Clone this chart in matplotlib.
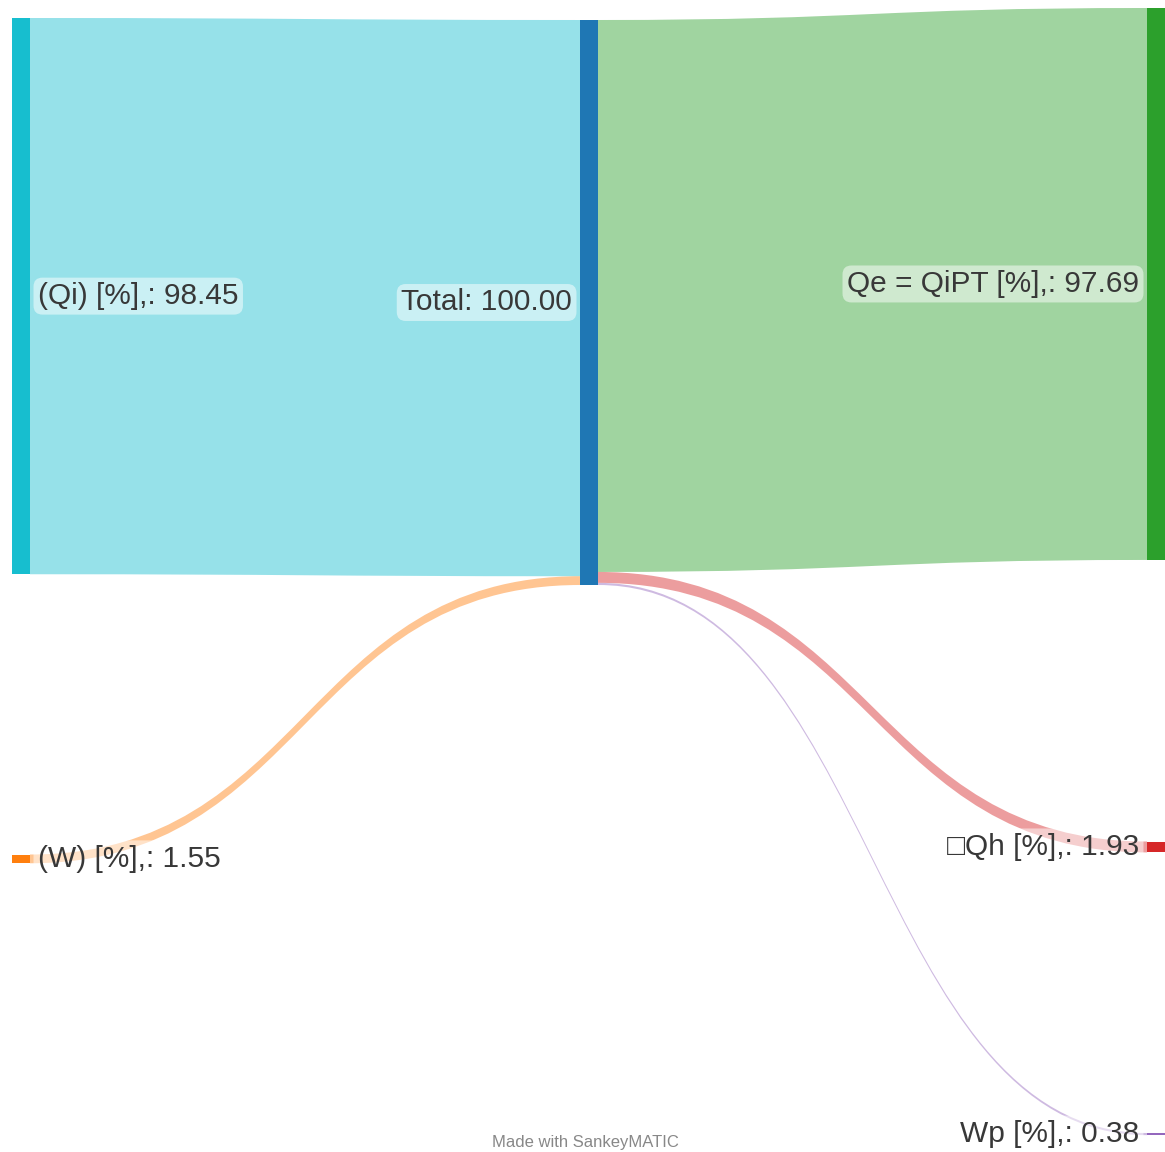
import matplotlib.pyplot as plt
from matplotlib.path import Path
import matplotlib.patches as patches

# Data
node_names = ["(Qi) [%],:", "(W) [%],:", "Total:", "Qe = QiPT [%],:", "\u25a1Qh [%],:", "Wp [%],:"]
node_colors = ["#17becf", "#ff7f0e", "#1f77b4", "#2ca02c", "#d62728", "#9467bd"]
flow_src = [0, 1, 2, 2, 2]
flow_tgt = [2, 2, 3, 4, 5]
flow_val = [98.45, 1.55, 97.69, 1.93, 0.38]
flow_color_node = [0, 1, 3, 4, 5]

# Layout (pixels)
W, H = 1165, 1152
node_col = [0, 0, 1, 2, 2, 2]
col_x = [12, 580, 1147]
node_w = 18
scale = 5.65
node_top = [18, 854.5, 20, 8, 841.5, 1133]

node_val = []
for i in range(len(node_names)):
    vin = sum(v for v, t in zip(flow_val, flow_tgt) if t == i)
    vout = sum(v for v, s in zip(flow_val, flow_src) if s == i)
    node_val.append(max(vin, vout))

fig = plt.figure(figsize=(W / 100, H / 100), dpi=100)
ax = fig.add_axes([0, 0, 1, 1])
ax.set_xlim(0, W)
ax.set_ylim(H, 0)
ax.axis('off')

# flows
out_off = [0.0] * len(node_names)
in_off = [0.0] * len(node_names)
for s, t, v, c in zip(flow_src, flow_tgt, flow_val, flow_color_node):
    h = v * scale
    x0 = col_x[node_col[s]] + node_w
    x1 = col_x[node_col[t]]
    y0 = node_top[s] + out_off[s]
    y1 = node_top[t] + in_off[t]
    out_off[s] += h
    in_off[t] += h
    xm = (x0 + x1) / 2
    verts = [(x0, y0), (xm, y0), (xm, y1), (x1, y1),
             (x1, y1 + h), (xm, y1 + h), (xm, y0 + h), (x0, y0 + h), (x0, y0)]
    codes = [Path.MOVETO, Path.CURVE4, Path.CURVE4, Path.CURVE4,
             Path.LINETO, Path.CURVE4, Path.CURVE4, Path.CURVE4, Path.CLOSEPOLY]
    ax.add_patch(patches.PathPatch(Path(verts, codes), facecolor=node_colors[c],
                                   edgecolor='none', alpha=0.45, zorder=1))

# nodes
for i in range(len(node_names)):
    h = max(node_val[i] * scale, 1.5)
    ax.add_patch(patches.Rectangle((col_x[node_col[i]], node_top[i]), node_w, h,
                                   facecolor=node_colors[i], edgecolor='none', zorder=2))

# labels
hfont = {'family': ['Liberation Sans', 'DejaVu Sans'], 'size': 21.5, 'color': '#383838'}
for i in range(len(node_names)):
    yc = node_top[i] + node_val[i] * scale / 2
    lab = node_names[i] + " " + format(node_val[i], '.2f')
    box = dict(boxstyle='round,pad=0.15,rounding_size=0.3', facecolor='white',
               edgecolor='none', alpha=0.5)
    if node_col[i] == 0:
        ax.text(col_x[0] + node_w + 8, yc, lab, ha='left', va='center', bbox=box, zorder=3, **hfont)
    else:
        ax.text(col_x[node_col[i]] - 8, yc, lab, ha='right', va='center', bbox=box, zorder=3, **hfont)

ax.text(585, 1150, "Made with SankeyMATIC", ha='center', va='bottom', fontsize=12,
        color='#888888', family=['Liberation Sans', 'DejaVu Sans'])

plt.savefig('out.png', dpi=100)
